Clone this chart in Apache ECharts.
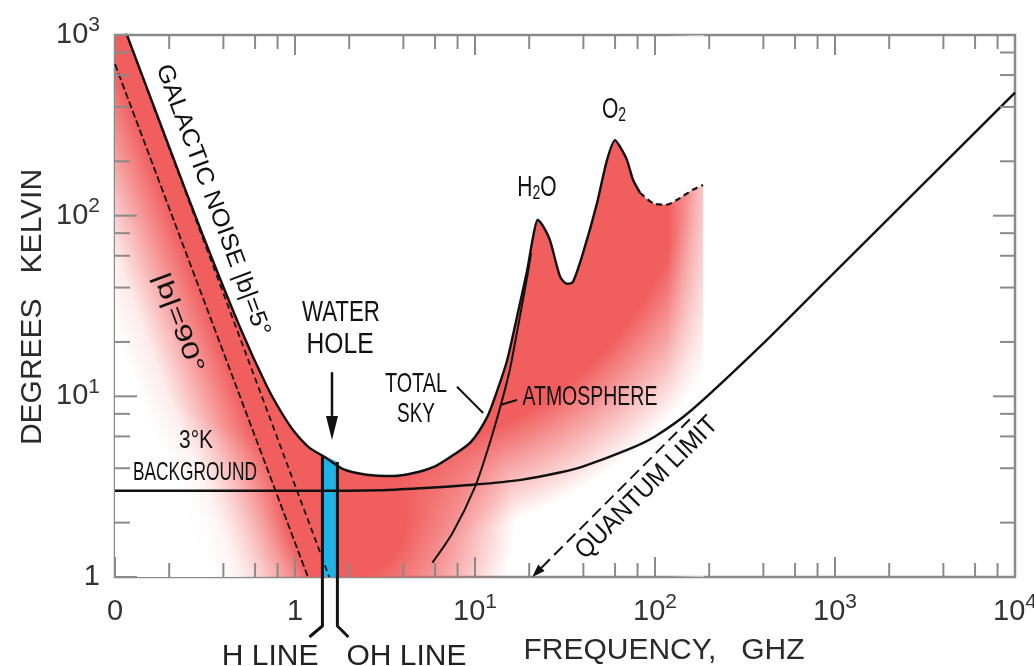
<!DOCTYPE html>
<html><head><meta charset="utf-8">
<script src="https://cdn.jsdelivr.net/npm/echarts@6/dist/echarts.min.js"></script>
<style>html,body{margin:0;padding:0;background:#fff;overflow:hidden}#c{width:1034px;height:666px}</style>
</head><body><div id="c"></div>
<script>
// ---------- data (frequency in GHz, temperature in K) ----------
const totalSky = [[0.1,1500],[0.2,240],[0.3,83],[0.5,23.5],[0.7,11.3],[0.85,8.0],[1.0,6.3],[1.2,5.2],[1.47,4.6],[1.85,3.95],[2.5,3.68],[3.5,3.62],[4.5,3.75],[6.0,4.1],[7.5,4.7],[9.5,5.6],[11.7,7.7],[13.3,10.8],[15.1,15.9],[17.1,27.5],[19.5,50],[21.0,76],[22.3,95],[23.8,88],[26.1,73],[29.7,46],[32.4,42],[35,43],[39.8,62],[47.6,117],[54.1,203],[60,262],[64,240],[69.9,203],[75.5,158],[82.5,134],[98,117],[116,115],[132,122],[162,139],[185,148]];
const galactic5 = [[0.1,1500],[1.55,1]];
const galactic90 = [[0.1,690],[1.18,1]];
const atmosphere = [[5.8,1.2],[7.5,1.75],[10,3.15],[12,5.4],[13.8,8.7],[15.6,14],[17.3,24],[19.5,46],[20.5,62]];
const background3K = [[0.1,3],[1,3],[3,3.02],[5,3.1],[10,3.25],[18,3.45],[30,3.8],[40,4.1],[70,5.05],[100,6.0],[160,8.4],[380,18.7],[900,44],[10000,480]];
const quantumLimit = [[20.8,1],[165,7.9]];
const waterHole = [[1.42,4.74],[1.72,4.33]];
const xMajorTicks = [0.1,1,10,100,1000,10000];
const xMinorTicks = [0.2,0.4,0.6,0.8,2,4,6,8,20,40,60,80,200,400,600,800,2000,4000,6000,8000];
const yMajorTicks = [1,10,100,1000];
const yMinorTicks = [2,4,6,8,20,40,60,80,200,400,600,800];
const xTickText = [['0',''],['1',''],['10','1'],['10','2'],['10','3'],['10','4']];
const yTickText = [['1',''],['10','1'],['10','2'],['10','3']];

// ---------- styling / annotation layout ----------
const FONT = "'Liberation Sans', Arial, Helvetica, sans-serif";
const INK = '#111';
const AXIS_GREY = '#8a8a8a';
const RED = [241, 94, 94];
const BLUE = '#1fb2e6';
const rgba = (c, a) => `rgba(${c[0]},${c[1]},${c[2]},${a})`;
// airbrushed glows (anchor in data space, radius in px)
const glowUpper = {at:[2.30, 338], r:430, stops:[[0,1],[0.78,1],[0.9,0.45],[1,0]]};
const glowLower = {at:[1.90, 2.07], r:170, stops:[[0,1],[0.35,1],[0.65,0.6],[1,0]]};
const endFadeFrom = 118;   // GHz where the airbrush starts thinning at the right end
const dashedFrom = 82.5;   // GHz where the total-sky curve is drawn dashed

const notes = [
  {text:'GALACTIC NOISE |b|=5°', at:[0.349,121.6], size:24, width:288, along:galactic5},
  {text:'|b|=90°', at:[0.224,25.5], size:24, width:105, along:galactic90},
  {text:'WATER', at:[1.80,28.9], size:29, width:78},
  {text:'HOLE', at:[1.78,19.3], size:29, width:67},
  {text:'3°K', at:[0.282,5.66], size:26, width:34},
  {text:'BACKGROUND', at:[0.278,3.77], size:26, width:124},
  {text:'TOTAL', at:[4.70,11.7], size:28, width:62},
  {text:'SKY', at:[4.70,8.0], size:28, width:38},
  {text:'ATMOSPHERE', at:[43.5,9.8], size:27, width:135},
  {text:'QUANTUM LIMIT', at:[90.3,3.11], size:26, width:190, along:quantumLimit},
  {rich:'{a|H}{b|2}{a|O}', at:[22.1,142], scale:0.7},
  {rich:'{a|O}{b|2}', at:[59.2,384], scale:0.7}
];
const leaders = [[[7.94,11.3],[11.1,8.09]], [[13.8,8.96],[17.1,9.55]]];
const waterArrow = [[1.605,13.6],[1.605,5.74]];

const mctx = document.createElement('canvas').getContext('2d');
function textWidth(t, size){ mctx.font = size + 'px ' + FONT; return mctx.measureText(t).width; }
function sup(base, exp){ return exp ? '{n|' + base + '}{s|' + exp + '}' : '{n|' + base + '}'; }
function labelFormatter(ticks, texts){
  return function(v){
    const e = Math.log10(v);
    const i = ticks.findIndex(t => Math.abs(Math.log10(t) - e) < 1e-6);
    return i < 0 ? '' : sup(texts[i][0], texts[i][1]);
  };
}
const richLabel = {
  n:{fontSize:29, lineHeight:40, fontFamily:FONT, color:'#333'},
  s:{fontSize:21, lineHeight:16, verticalAlign:'top', fontFamily:FONT, color:'#333'}
};
function angleOf(api, seg){
  const a = api.coord(seg[0]), b = api.coord(seg[seg.length-1]);
  return -Math.atan2(b[1]-a[1], b[0]-a[0]);
}
function arrowParts(p0, p1, headLen, headW){
  const dx = p1[0]-p0[0], dy = p1[1]-p0[1], L = Math.hypot(dx, dy), ux = dx/L, uy = dy/L;
  const bx = p1[0]-ux*headLen, by = p1[1]-uy*headLen;
  return {base:[bx,by], head:[[p1[0],p1[1]],[bx-uy*headW/2, by+ux*headW/2],[bx+uy*headW/2, by-ux*headW/2]]};
}

// ---------- custom renderers ----------
function bandItem(params, api){
  const upper = totalSky.filter(p => p[0] <= waterHole[1][0]);
  const lastF = upper[upper.length-1][0];
  const pts = upper.map(p => api.coord(p));
  pts.push(api.coord([lastF, 1]));
  pts.push(api.coord(galactic90[1]));
  pts.push(api.coord(galactic90[0]));
  return {type:'polygon', shape:{points:pts}, style:{fill:rgba(RED,1)}};
}
function leftFadeItem(params, api){
  const a = api.coord(galactic90[0]), b = api.coord(galactic90[1]);
  const c = api.coord([galactic90[0][0], 1]);
  const dx = b[0]-a[0], dy = b[1]-a[1], L = Math.hypot(dx, dy);
  const nx = -dy/L, ny = dx/L;
  const mx = (a[0]+b[0])/2, my = (a[1]+b[1])/2, W = 95;
  const grad = new echarts.graphic.LinearGradient(mx, my, mx+nx*W, my+ny*W, [
    {offset:0, color:'rgba(255,255,255,0)'},
    {offset:0.25, color:'rgba(255,255,255,0.3)'},
    {offset:0.7, color:'rgba(255,255,255,0.88)'},
    {offset:1, color:'rgba(255,255,255,1)'}], true);
  return {type:'polygon', shape:{points:[a,b,c]}, style:{fill:grad}};
}
function endFadeItem(params, api){
  const last = totalSky[totalSky.length-1][0];
  const p0 = api.coord([endFadeFrom, 1000]), p1 = api.coord([last, 1]);
  const grad = new echarts.graphic.LinearGradient(p0[0], 0, p1[0] + 1, 0, [
    {offset:0, color:'rgba(255,255,255,0)'},
    {offset:1, color:'rgba(255,255,255,0.6)'}], true);
  return {type:'rect', shape:{x:p0[0], y:p0[1], width:p1[0]-p0[0]+1, height:p1[1]-p0[1]}, style:{fill:grad}};
}
function waterBarItem(params, api){
  const a0 = api.coord([waterHole[0][0],1]), a1 = api.coord(waterHole[0]);
  const b0 = api.coord([waterHole[1][0],1]), b1 = api.coord(waterHole[1]);
  return {type:'polygon', shape:{points:[a0,a1,b1,b0]}, style:{fill:BLUE}};
}
function waterLinesItem(params, api){
  const a0 = api.coord([waterHole[0][0],1]), a1 = api.coord(waterHole[0]);
  const b0 = api.coord([waterHole[1][0],1]), b1 = api.coord(waterHole[1]);
  const drop = 49, st = {stroke:INK, lineWidth:3, fill:null};
  const hEnd = [a0[0]-13, a0[1]+drop+11], oEnd = [b0[0]+11, b0[1]+drop+11];
  const tstyle = {fontSize:30, fontFamily:FONT, fill:'#222', verticalAlign:'middle'};
  return {type:'group', children:[
    {type:'polyline', shape:{points:[a1,[a0[0],a0[1]+drop],hEnd]}, style:st},
    {type:'polyline', shape:{points:[b1,[b0[0],b0[1]+drop],oEnd]}, style:st},
    {type:'text', x:hEnd[0]+9, y:hEnd[1]+20, style:Object.assign({text:'H LINE', align:'right'}, tstyle)},
    {type:'text', x:oEnd[0]-2, y:oEnd[1]+20, style:Object.assign({text:'OH LINE', align:'left'}, tstyle)}
  ]};
}
function annotItem(params, api){
  const children = [];
  const w0 = api.coord(waterArrow[0]);
  const wa = arrowParts(w0, api.coord(waterArrow[1]), 24, 12);
  children.push({type:'line', shape:{x1:w0[0], y1:w0[1], x2:wa.base[0], y2:wa.base[1]}, style:{stroke:INK, lineWidth:2.5}});
  children.push({type:'polygon', shape:{points:wa.head}, style:{fill:INK}});
  leaders.forEach(l => {
    const p = api.coord(l[0]), q = api.coord(l[1]);
    children.push({type:'line', shape:{x1:p[0], y1:p[1], x2:q[0], y2:q[1]}, style:{stroke:INK, lineWidth:2}});
  });
  const qs = api.coord(quantumLimit[0]), qe = api.coord(quantumLimit[1]);
  const qa = arrowParts(qe, qs, 13, 9);
  children.push({type:'line', shape:{x1:qa.base[0], y1:qa.base[1], x2:qe[0], y2:qe[1]}, style:{stroke:INK, lineWidth:2, lineDash:[12,6]}});
  children.push({type:'polygon', shape:{points:qa.head}, style:{fill:INK}});
  return {type:'group', children};
}
function noteItem(params, api){
  const n = notes[params.dataIndex];
  const p = api.coord(n.at);
  if (n.rich){
    return {type:'text', x:p[0], y:p[1], scaleX:n.scale, style:{text:n.rich, align:'center', verticalAlign:'middle', fill:INK,
      rich:{a:{fontSize:30, lineHeight:30, fontFamily:FONT, fill:INK, color:INK}, b:{fontSize:20, lineHeight:10, verticalAlign:'bottom', fontFamily:FONT, fill:INK, color:INK}}}};
  }
  const rot = n.along ? angleOf(api, n.along) : 0;
  const sx = n.width / textWidth(n.text, n.size);
  return {type:'text', x:p[0], y:p[1], rotation:rot, scaleX:sx,
    style:{text:n.text, fontSize:n.size, fontFamily:FONT, fill:INK, align:'center', verticalAlign:'middle'}};
}
function xTickItem(params, api){
  const v = api.value(0), cs = params.coordSys;
  const px = api.coord([v, 1])[0];
  const len = xMajorTicks.indexOf(v) >= 0 ? 20 : 14;
  const st = {stroke:AXIS_GREY, lineWidth:2};
  const b = cs.y + cs.height, t = cs.y;
  return {type:'group', children:[
    {type:'line', shape:{x1:px, y1:b, x2:px, y2:b-len}, style:st},
    {type:'line', shape:{x1:px, y1:t, x2:px, y2:t+len}, style:st}]};
}
function yTickItem(params, api){
  const v = api.value(1), cs = params.coordSys;
  const py = api.coord([1, v])[1];
  const len = yMajorTicks.indexOf(v) >= 0 ? 22 : 15;
  const st = {stroke:AXIS_GREY, lineWidth:2};
  const l = cs.x, r = cs.x + cs.width;
  return {type:'group', children:[
    {type:'line', shape:{x1:l, y1:py, x2:l+len, y2:py}, style:st},
    {type:'line', shape:{x1:r, y1:py, x2:r-len, y2:py}, style:st}]};
}

const lineBase = {type:'line', showSymbol:false, symbol:'none', silent:true, z:3};
const SMOOTH = 0.25;
const option = {
  animation:false,
  backgroundColor:'#ffffff',
  grid:{left:115, top:35, right:19, bottom:89, show:true, borderColor:AXIS_GREY, borderWidth:2.5, backgroundColor:'transparent', outerBoundsMode:'none', containLabel:false},
  xAxis:{type:'log', logBase:10, min:0.1, max:10000,
    axisLine:{show:false}, axisTick:{show:false}, splitLine:{show:false}, minorTick:{show:false},
    axisLabel:{margin:15, interval:0, showMinLabel:true, showMaxLabel:true, hideOverlap:false, formatter:labelFormatter(xMajorTicks, xTickText), rich:richLabel}},
  yAxis:{type:'log', logBase:10, min:1, max:1000,
    axisLine:{show:false}, axisTick:{show:false}, splitLine:{show:false}, minorTick:{show:false},
    axisLabel:{margin:15, showMinLabel:true, showMaxLabel:true, hideOverlap:false, formatter:labelFormatter(yMajorTicks, yTickText), rich:richLabel}},
  graphic:[
    {type:'text', x:33, y:307, rotation:Math.PI/2, style:{text:'DEGREES   KELVIN', font:'30px ' + FONT, fill:'#2a2a2a', align:'center', verticalAlign:'middle'}},
    {type:'text', x:664, y:651, style:{text:'FREQUENCY,   GHZ', font:'30px ' + FONT, fill:'#2a2a2a', align:'center', verticalAlign:'middle'}}
  ],
  series:[
    Object.assign({}, lineBase, {id:'glowUpper', data:totalSky, smooth:SMOOTH, lineStyle:{width:0}, areaStyle:{origin:'start', color:rgba(RED,1), opacity:1}, z:1}),
    Object.assign({}, lineBase, {id:'glowLower', data:totalSky, smooth:SMOOTH, lineStyle:{width:0}, areaStyle:{origin:'start', color:rgba(RED,0), opacity:1}, z:1}),
    {type:'custom', name:'band', data:[[1,10]], renderItem:bandItem, clip:true, silent:true, z:1},
    {type:'custom', name:'leftFade', data:[[1,10]], renderItem:leftFadeItem, clip:true, silent:true, z:1},
    {type:'custom', name:'endFade', data:[[150,10]], renderItem:endFadeItem, clip:true, silent:true, z:1},
    Object.assign({}, lineBase, {name:'|b|=90°', data:galactic90, lineStyle:{color:INK, width:1.8, type:[7,3]}}),
    Object.assign({}, lineBase, {name:'|b|=5°', data:galactic5, lineStyle:{color:INK, width:1.8, type:[6,4]}}),
    Object.assign({}, lineBase, {name:'3K + quantum', data:background3K, smooth:SMOOTH, lineStyle:{color:INK, width:2.4}}),
    Object.assign({}, lineBase, {name:'atmosphere', data:atmosphere, smooth:SMOOTH, lineStyle:{color:INK, width:2}}),
    {type:'custom', name:'waterBar', data:[[1.5,2]], renderItem:waterBarItem, clip:true, silent:true, z:3},
    Object.assign({}, lineBase, {name:'total sky', data:totalSky.filter(p => p[0] <= dashedFrom), smooth:SMOOTH, lineStyle:{color:INK, width:2.4}, z:4}),
    Object.assign({}, lineBase, {name:'total sky (dashed)', data:totalSky.filter(p => p[0] >= dashedFrom), smooth:SMOOTH, lineStyle:{color:INK, width:2.2, type:[6,4]}, z:4}),
    {type:'custom', name:'waterLines', data:[[1.5,2]], renderItem:waterLinesItem, clip:false, silent:true, z:5},
    {type:'custom', name:'annot', data:[[1,10]], renderItem:annotItem, clip:false, silent:true, z:5},
    {type:'custom', name:'notes', data:notes.map(n => [n.at[0], n.at[1]]), renderItem:noteItem, clip:false, silent:true, z:6},
    {type:'custom', name:'xTicks', data:xMajorTicks.concat(xMinorTicks).map(v => [v, 1]), renderItem:xTickItem, clip:false, silent:true, z:7},
    {type:'custom', name:'yTicks', data:yMajorTicks.concat(yMinorTicks).map(v => [1, v]), renderItem:yTickItem, clip:false, silent:true, z:7}
  ]
};

const chart = echarts.init(document.getElementById('c'), null, {renderer:'canvas'});
chart.setOption(option);
function glowGradient(g){
  const c = chart.convertToPixel({xAxisIndex:0, yAxisIndex:0}, g.at);
  return new echarts.graphic.RadialGradient(c[0], c[1], g.r, g.stops.map(s => ({offset:s[0], color:rgba(RED, s[1])})), true);
}
chart.setOption({series:[
  {id:'glowUpper', areaStyle:{origin:'start', opacity:1, color:glowGradient(glowUpper)}},
  {id:'glowLower', areaStyle:{origin:'start', opacity:1, color:glowGradient(glowLower)}}
]});
</script>
</body></html>
